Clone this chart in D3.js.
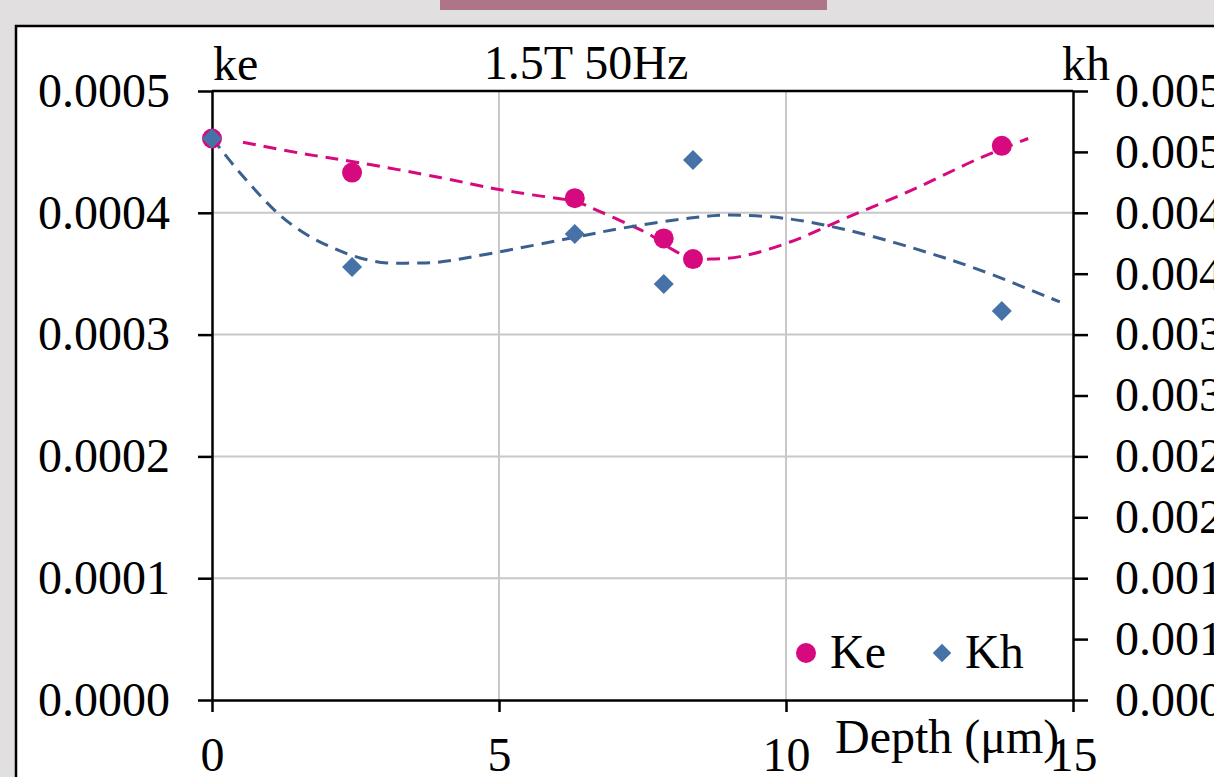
<!DOCTYPE html>
<html>
<head>
<meta charset="utf-8">
<script src="https://cdn.jsdelivr.net/npm/d3@7"></script>
<style>
  html, body { margin: 0; padding: 0; background: #e2dfe0; overflow: hidden; }
  svg { display: block; }
</style>
</head>
<body>
<script>
// measured points
const depth = [0, 2.44, 6.32, 7.87, 8.38, 13.76];
const ke = [0.000461, 0.000433, 0.000412, 0.000379, 0.000362, 0.000455];
const kh = [0.00461, 0.003555, 0.003826, 0.003415, 0.004433, 0.003194];

// trend lines
const keTrendX = [0.54, 1.53, 2.58, 3.97, 4.9, 5.54, 6.34, 6.76, 7.28, 7.63, 7.98, 8.33, 8.68, 9.2, 10.07, 11.06, 12.21, 13.38, 14.22];
const keTrendY = [0.000458, 0.000449, 0.000441, 0.000429, 0.00042, 0.000415, 0.000409, 0.000401, 0.00039, 0.000382, 0.000371, 0.000363, 0.000362, 0.000364, 0.000376, 0.000396, 0.000419, 0.000445, 0.000461];
const khTrendX = [0, 0.49, 1.18, 1.66, 2.11, 2.58, 3.05, 3.5, 3.97, 4.9, 6.34, 7.16, 8.33, 9.02, 10.07, 11.06, 12.21, 13.38, 14.77];
const khTrendY = [0.004614, 0.004327, 0.003982, 0.003818, 0.003711, 0.003629, 0.003588, 0.003588, 0.003596, 0.00367, 0.003801, 0.003875, 0.003957, 0.003982, 0.003949, 0.003859, 0.003711, 0.00353, 0.003268];

const xTicks = [0, 5, 10, 15];
const keTicks = [0, 0.0001, 0.0002, 0.0003, 0.0004, 0.0005];
const khTicks = [0, 0.0005, 0.001, 0.0015, 0.002, 0.0025, 0.003, 0.0035, 0.004, 0.0045, 0.005];

const W = 1214, H = 777;
const pink = "#d6097f", blue = "#4672a8", blueLine = "#3b5f8e";
const font = "'Liberation Serif', 'Times New Roman', serif";

const svg = d3.select("body").append("svg")
  .attr("width", W).attr("height", H)
  .attr("font-family", font);

// page background + top bar
svg.append("rect").attr("width", W).attr("height", H).attr("fill", "#e2dfe0");
svg.append("rect").attr("x", 440).attr("y", 0).attr("width", 387).attr("height", 10).attr("fill", "#ad7587");
svg.append("rect").attr("x", 16).attr("y", 26).attr("width", W).attr("height", H)
  .attr("fill", "#fff").attr("stroke", "#000").attr("stroke-width", 2.5);

const x = d3.scaleLinear().domain([0, 15]).range([212, 1073]);
const yL = d3.scaleLinear().domain([0, 0.0005]).range([700, 91]);
const yR = d3.scaleLinear().domain([0, 0.005]).range([700, 91]);

// grid
svg.append("g").selectAll("line").data(keTicks.slice(1, -1)).join("line")
  .attr("x1", x(0)).attr("x2", x(15)).attr("y1", d => yL(d)).attr("y2", d => yL(d))
  .attr("stroke", "#c8c8c8").attr("stroke-width", 2);
svg.append("g").selectAll("line").data(xTicks.slice(1, -1)).join("line")
  .attr("x1", d => x(d)).attr("x2", d => x(d)).attr("y1", yL(0.0005)).attr("y2", yL(0))
  .attr("stroke", "#c8c8c8").attr("stroke-width", 2);

// top frame line
svg.append("line").attr("x1", x(0)).attr("x2", x(15)).attr("y1", yL(0.0005)).attr("y2", yL(0.0005))
  .attr("stroke", "#000").attr("stroke-width", 2.5);

function styleAxis(g) {
  g.selectAll("path,line").attr("stroke", "#000").attr("stroke-width", 2.5);
  g.selectAll("text").attr("fill", "#000").attr("font-size", 48).attr("font-family", font);
}

// excel style rounding to 3 places (half up)
const fmt3 = d => (Math.round(d * 1000 + 1e-9) / 1000).toFixed(3);

svg.append("g").attr("transform", `translate(0,${yL(0)})`)
  .call(d3.axisBottom(x).tickValues(xTicks).tickFormat(d3.format("d")).tickSize(12).tickSizeOuter(0).tickPadding(25))
  .call(styleAxis);
svg.append("g").attr("transform", `translate(${x(0)},0)`)
  .call(d3.axisLeft(yL).tickValues(keTicks).tickFormat(d3.format(".4f")).tickSize(14).tickSizeOuter(0).tickPadding(28))
  .call(styleAxis);
svg.append("g").attr("transform", `translate(${x(15)},0)`)
  .call(d3.axisRight(yR).tickValues(khTicks).tickFormat(fmt3).tickSize(15).tickSizeOuter(0).tickPadding(27))
  .call(styleAxis);

// trend lines
const line = (ys) => d3.line().x(d => x(d[0])).y(d => ys(d[1])).curve(d3.curveCatmullRom.alpha(0.5));
svg.append("path").datum(d3.zip(keTrendX, keTrendY)).attr("d", line(yL))
  .attr("fill", "none").attr("stroke", pink).attr("stroke-width", 3).attr("stroke-dasharray", "13,8");
svg.append("path").datum(d3.zip(khTrendX, khTrendY)).attr("d", line(yR))
  .attr("fill", "none").attr("stroke", blueLine).attr("stroke-width", 3).attr("stroke-dasharray", "13,8");

// markers
svg.append("g").selectAll("circle").data(d3.zip(depth, ke)).join("circle")
  .attr("cx", d => x(d[0])).attr("cy", d => yL(d[1])).attr("r", 10).attr("fill", pink);
const diamond = d3.symbol().type(d3.symbolSquare).size(200);
svg.append("g").selectAll("path").data(d3.zip(depth, kh)).join("path")
  .attr("d", diamond).attr("transform", d => `translate(${x(d[0])},${yR(d[1])}) rotate(45)`)
  .attr("fill", blue);

// texts
const txt = (t, px, py, anchor) => svg.append("text").text(t).attr("x", px).attr("y", py)
  .attr("font-size", 48).attr("text-anchor", anchor || "start").attr("fill", "#000");
txt("1.5T 50Hz", 586, 79, "middle");
txt("ke", 213, 80);
txt("kh", 1062, 80);
txt("Depth (μm)", 835, 753);

// legend
svg.append("circle").attr("cx", 806).attr("cy", 653).attr("r", 10).attr("fill", pink);
txt("Ke", 830, 668);
svg.append("path").attr("d", d3.symbol().type(d3.symbolSquare).size(170))
  .attr("transform", "translate(942,653) rotate(45)").attr("fill", blue);
txt("Kh", 965, 668);
</script>
</body>
</html>
